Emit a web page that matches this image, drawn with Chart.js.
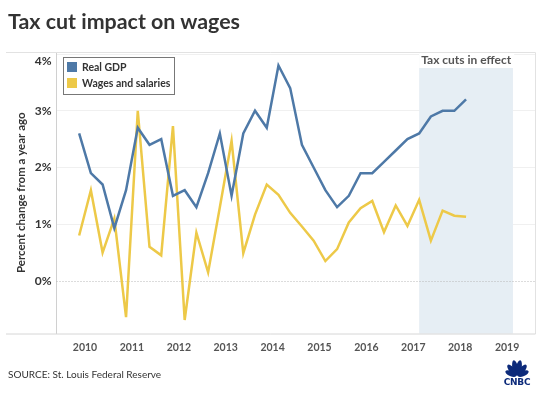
<!DOCTYPE html>
<html>
<head>
<meta charset="utf-8">
<script src="https://cdn.jsdelivr.net/npm/chart.js@4.4.0/dist/chart.umd.min.js"></script>
<style>
  html, body { margin:0; padding:0; background:#fff; }
  #wrap { position:relative; width:550px; height:393px; overflow:hidden; font-family: Lato, "Open Sans", sans-serif; }
  #title { position:absolute; left:8px; top:8px; font-size:21.4px; font-weight:700; color:#333; }
  #source { position:absolute; left:8px; top:368px; font-size:10px; color:#333; }
  #legend { position:absolute; left:63px; top:57px; width:110px; height:36px; border:1px solid #777; background:#fff; }
  .li { position:absolute; left:3px; height:11px; font-size:10.5px; font-weight:700; color:#333; line-height:11px; white-space:nowrap; }
  .sw { display:inline-block; width:10px; height:10px; vertical-align:top; margin-right:5px; }
  #logo { position:absolute; left:496px; top:359px; }
  canvas { position:absolute; left:0; top:0; }
</style>
</head>
<body>
<div id="wrap">
  <canvas id="c" width="550" height="393"></canvas>
  <div id="title">Tax cut impact on wages</div>
  <div id="legend">
    <div class="li" style="top:4px"><span class="sw" style="background:#4e79a7"></span>Real GDP</div>
    <div class="li" style="top:20px"><span class="sw" style="background:#edc948"></span>Wages and salaries</div>
  </div>
  <div id="source">SOURCE: St. Louis Federal Reserve</div>
  <svg id="logo" width="42" height="27" viewBox="0 0 42 27">
    <g fill="#0c2a7a" transform="translate(21,17)">
      <ellipse cx="0" cy="-8.5" rx="2.8" ry="7.5" transform="rotate(-12)"/>
      <ellipse cx="0" cy="-8.5" rx="2.8" ry="7.5" transform="rotate(12)"/>
      <ellipse cx="0" cy="-7.5" rx="2.8" ry="7" transform="rotate(-40)"/>
      <ellipse cx="0" cy="-7.5" rx="2.8" ry="7" transform="rotate(40)"/>
      <ellipse cx="0" cy="-6.5" rx="2.7" ry="6" transform="rotate(-68)"/>
      <ellipse cx="0" cy="-6.5" rx="2.7" ry="6" transform="rotate(68)"/>
    </g>
    <text x="21" y="26" text-anchor="middle" font-family="DejaVu Sans" font-weight="700" font-size="9" fill="#0c2a7a" letter-spacing="-0.3">CNBC</text>
  </svg>
</div>
<script>
// ---- data ----
const quarters = ['2009Q4','2010Q1','2010Q2','2010Q3','2010Q4','2011Q1','2011Q2','2011Q3','2011Q4',
  '2012Q1','2012Q2','2012Q3','2012Q4','2013Q1','2013Q2','2013Q3','2013Q4','2014Q1','2014Q2','2014Q3','2014Q4',
  '2015Q1','2015Q2','2015Q3','2015Q4','2016Q1','2016Q2','2016Q3','2016Q4','2017Q1','2017Q2','2017Q3','2017Q4','2018Q1'];
const realGDP = [2.6,1.9,1.7,0.93,1.6,2.7,2.4,2.5,1.5,1.6,1.3,1.9,2.6,1.5,2.6,3.0,2.7,3.8,3.4,2.4,2.0,1.6,1.3,1.5,1.9,1.9,2.1,2.3,2.5,2.6,2.9,3.0,3.0,3.2];
const wages = [0.8,1.6,0.5,1.1,-0.64,3.0,0.6,0.45,2.73,-0.69,0.85,0.15,1.3,2.47,0.49,1.17,1.7,1.52,1.2,0.96,0.71,0.35,0.56,1.03,1.28,1.41,0.86,1.33,0.97,1.43,0.71,1.24,1.15,1.13];
const yearTicks = [2010,2011,2012,2013,2014,2015,2016,2017,2018,2019];
const pctTicks = [0,1,2,3,4];
const taxCutStart = '2017Q1';
const taxCutEnd = '2019Q1';
const taxCutLabel = 'Tax cuts in effect';

function qToX(q){ const y = +q.slice(0,4), n = +q.slice(5); return y + (n - 0.5) / 4; }
const pts = arr => arr.map((v,i) => ({x: qToX(quarters[i]), y: v}));

const FONT = 'Lato, "Open Sans", sans-serif';

const decor = {
  id: 'decor',
  beforeDatasetsDraw(chart) {
    const {ctx, chartArea:a, scales:{x, y}} = chart;
    ctx.save();
    const x0 = x.getPixelForValue(qToX(taxCutStart)), x1 = x.getPixelForValue(qToX(taxCutEnd));
    ctx.fillStyle = '#e6eef4';
    ctx.fillRect(x0, a.top, x1 - x0, a.bottom - a.top);
    const y0 = Math.round(y.getPixelForValue(0)) + 0.5;
    ctx.strokeStyle = '#b8b8b8'; ctx.lineWidth = 1; ctx.setLineDash([1,2]);
    ctx.beginPath(); ctx.moveTo(a.left, y0); ctx.lineTo(a.right, y0); ctx.stroke();
    ctx.setLineDash([]);
    ctx.font = '700 12px ' + FONT;
    const w = ctx.measureText(taxCutLabel).width;
    ctx.fillStyle = '#fff';
    ctx.fillRect(x0, a.top + 1, w + 5, 15);
    ctx.fillStyle = '#555'; ctx.textBaseline = 'middle';
    ctx.fillText(taxCutLabel, x0 + 2, a.top + 8.5);
    ctx.restore();
  },
  afterDraw(chart) {
    const {ctx, chartArea:a} = chart;
    ctx.save();
    ctx.strokeStyle = '#e2e2e2'; ctx.lineWidth = 1;
    ctx.beginPath();
    ctx.moveTo(6, a.top + 0.5); ctx.lineTo(a.right + 0.5, a.top + 0.5);
    ctx.lineTo(a.right + 0.5, a.bottom + 0.5);
    ctx.stroke();
    ctx.strokeStyle = '#d6d6d6';
    ctx.beginPath(); ctx.moveTo(6, a.bottom + 0.5); ctx.lineTo(a.right + 0.5, a.bottom + 0.5); ctx.stroke();
    ctx.restore();
  }
};

new Chart(document.getElementById('c'), {
  type: 'line',
  data: {
    datasets: [
      { label: 'Real GDP', data: pts(realGDP), borderColor: '#4e79a7', backgroundColor: '#4e79a7', borderWidth: 2.5, pointRadius: 0, tension: 0 },
      { label: 'Wages and salaries', data: pts(wages), borderColor: '#edc948', backgroundColor: '#edc948', borderWidth: 2.5, pointRadius: 0, tension: 0 }
    ]
  },
  options: {
    responsive: false, animation: false, devicePixelRatio: 1,
    layout: { padding: { left: 6, top: 52, right: 15, bottom: 0 } },
    plugins: { legend: { display: false }, tooltip: { enabled: false } },
    scales: {
      x: {
        type: 'linear', min: 2009.392, max: 2019.595,
        afterBuildTicks: s => { s.ticks = yearTicks.map(v => ({value: v})); },
        afterFit: s => { s.height = 59.5; s.paddingLeft = 0; s.paddingRight = 0; },
        grid: { display: false, drawTicks: false },
        border: { display: false },
        ticks: { padding: 8, maxRotation: 0, autoSkip: false, color: '#555', font: { family: FONT, size: 10.5, weight: '700' }, callback: v => String(v) }
      },
      y: {
        min: -0.928, max: 4.037,
        afterBuildTicks: s => { s.ticks = pctTicks.map(v => ({value: v})); },
        afterFit: s => { s.width = 50.5; s.paddingTop = 0; s.paddingBottom = 0; },
        grid: { drawTicks: false, color: c => (c.tick && c.tick.value === 0) ? 'rgba(0,0,0,0)' : '#f0f0f0' },
        border: { display: true, color: '#d0d0d0' },
        ticks: { padding: 5, color: '#333', font: { family: FONT, size: 12, weight: '700' },
          callback: v => v === 4 ? ['', v + '%'] : v + '%' },
        title: { display: true, text: 'Percent change from a year ago', color: '#333', font: { family: FONT, size: 11.5, weight: '700' }, padding: { top: 8, bottom: 0 } }
      }
    }
  },
  plugins: [decor]
});
</script>
</body>
</html>
